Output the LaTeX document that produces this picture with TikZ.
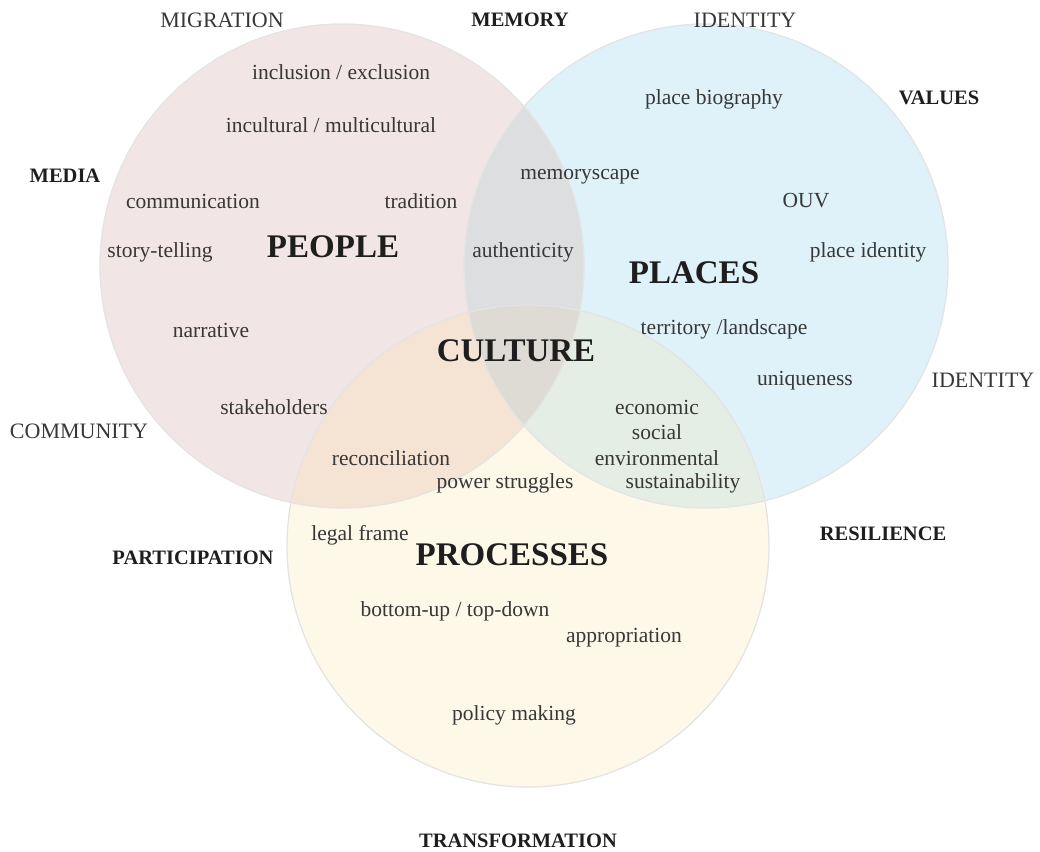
\documentclass[tikz,border=0pt]{standalone}
\usepackage{fontspec}
\setmainfont{Liberation Serif}
\definecolor{pinkc}{RGB}{242,229,229}
\definecolor{bluec}{RGB}{223,241,249}
\definecolor{yellc}{RGB}{254,248,233}
\definecolor{pbc}{RGB}{221,222,224}
\definecolor{pyc}{RGB}{245,227,212}
\definecolor{byc}{RGB}{228,238,228}
\definecolor{pbyc}{RGB}{221,219,211}
\definecolor{edgec}{RGB}{228,228,228}
\definecolor{txt}{RGB}{55,55,55}
\definecolor{dark}{RGB}{30,30,30}
\tikzset{
  word/.style={font=\fontsize{21.5}{24}\selectfont, text=txt, inner sep=0pt, yshift=-1.5pt},
  capw/.style={font=\fontsize{22}{26}\selectfont, text=txt, inner sep=0pt, yshift=-1pt},
  bcapw/.style={font=\fontsize{20.5}{24}\selectfont\bfseries, text=dark, inner sep=0pt, yshift=-1pt},
  bigw/.style={font=\fontsize{33}{38}\selectfont\bfseries, text=dark, inner sep=0pt, yshift=-1pt},
  ring/.style={draw=edgec, line width=1.3pt}
}
\begin{document}
\begin{tikzpicture}[x=1pt,y=-1pt]
\useasboundingbox (0,0) rectangle (1040,851);
\def\PeopleC{(342,266) circle[radius=242pt]}
\def\PlacesC{(706,266) circle[radius=242pt]}
\def\ProcC{(528,546) circle[radius=241pt]}
% base fills
\fill[pinkc] \PeopleC;
\fill[bluec] \PlacesC;
\fill[yellc] \ProcC;
% pairwise overlaps
\begin{scope}\clip \PeopleC; \fill[pbc] \PlacesC; \end{scope}
\begin{scope}\clip \PeopleC; \fill[pyc] \ProcC; \end{scope}
\begin{scope}\clip \PlacesC; \fill[byc] \ProcC; \end{scope}
\begin{scope}\clip \PeopleC; \clip \PlacesC; \fill[pbyc] \ProcC; \end{scope}
% outlines
\draw[ring] \PeopleC;
\draw[ring] \PlacesC;
\draw[ring] \ProcC;

% outer labels
\node[capw]  (migration) at (222,19) {MIGRATION};
\node[bcapw] (memory)    at (520,19) {MEMORY};
\node[capw]  (identity1) at (745,19) {IDENTITY};
\node[bcapw] (values)    at (939,97) {VALUES};
\node[bcapw] (media)     at (65,175) {MEDIA};
\node[capw]  (identity2) at (983,379) {IDENTITY};
\node[capw]  (community) at (79,430) {COMMUNITY};
\node[bcapw] (participation) at (193,557) {PARTICIPATION};
\node[bcapw] (resilience) at (883,533) {RESILIENCE};
\node[bcapw] (transformation) at (518,840) {TRANSFORMATION};

% people
\node[word] (incl) at (341,71) {inclusion / exclusion};
\node[word] (incult) at (331,124) {incultural / multicultural};
\node[word] (comm) at (193,200) {communication};
\node[word] (trad) at (421,200) {tradition};
\node[word] (story) at (160,251) {story-telling};
\node[bigw] (people) at (333,246) {PEOPLE};
\node[word] (narr) at (211,329) {narrative};
\node[word] (stake) at (274,406) {stakeholders};

% people & places
\node[word] (memscape) at (580,175) {memoryscape};
\node[word] (auth) at (523,251) {authenticity};

% places
\node[word] (pbio) at (714,98) {place biography};
\node[word] (ouv) at (806,199) {OUV};
\node[word] (pid) at (868,251) {place identity};
\node[bigw] (places) at (694,272) {PLACES};
\node[word] (terr) at (724,328) {territory /landscape};
\node[word] (uniq) at (805,379) {uniqueness};

% center
\node[bigw] (culture) at (516,350) {CULTURE};

% places & processes
\node[word] (econ) at (657,406) {economic};
\node[word] (soc) at (657,431) {social};
\node[word] (env) at (657,457) {environmental};
\node[word] (sust) at (683,482) {sustainability};

% people & processes
\node[word] (recon) at (391,457) {reconciliation};
\node[word] (power) at (505,482) {power struggles};

% processes
\node[word] (legal) at (360,534) {legal frame};
\node[bigw] (processes) at (512,554) {PROCESSES};
\node[word] (bottom) at (455,610) {bottom-up / top-down};
\node[word] (approp) at (624,636) {appropriation};
\node[word] (policy) at (514,714) {policy making};
\end{tikzpicture}
\end{document}
